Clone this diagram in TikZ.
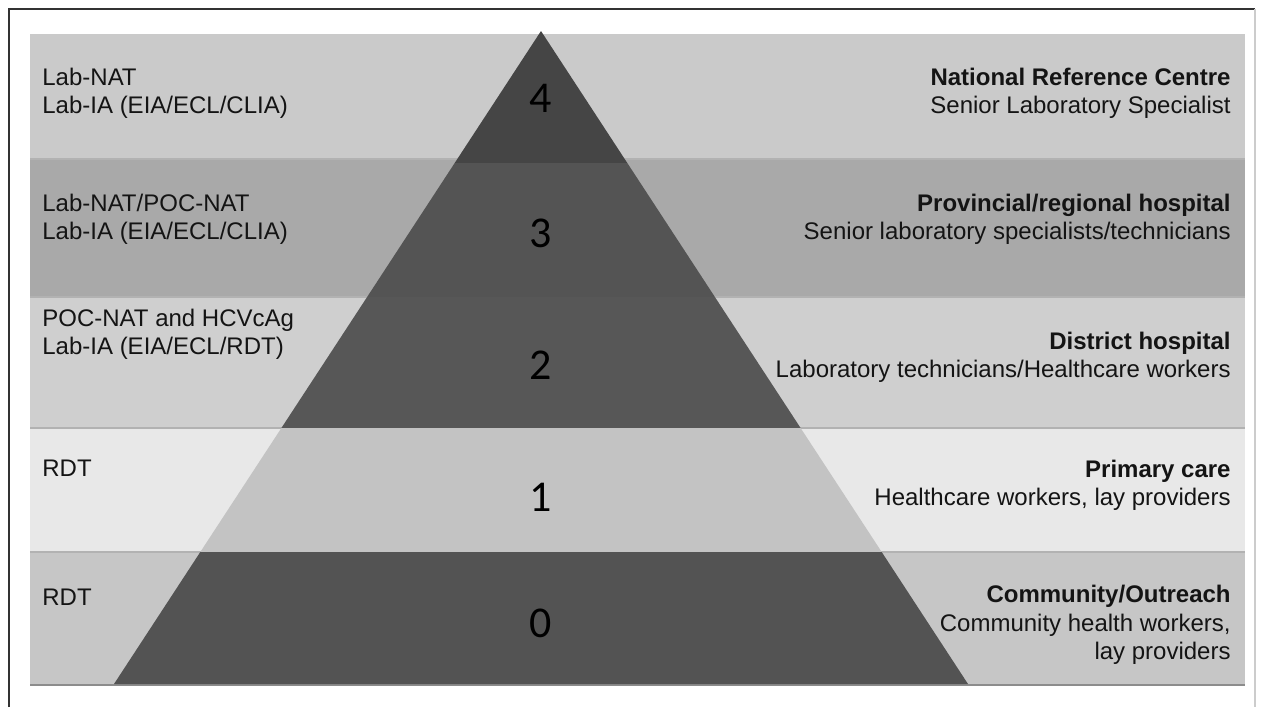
\documentclass[tikz,border=0pt]{standalone}
\usepackage{fontspec}
\setmainfont{Liberation Sans}
\newfontfamily\tiernumfont{Carlito}
\usepackage{tikz}

\definecolor{bandfour}{HTML}{CACACA}
\definecolor{bandthree}{HTML}{A9A9A9}
\definecolor{bandtwo}{HTML}{CFCFCF}
\definecolor{bandone}{HTML}{E8E8E8}
\definecolor{bandzero}{HTML}{C6C6C6}
\definecolor{tierfour}{HTML}{454545}
\definecolor{tierthree}{HTML}{545454}
\definecolor{tiertwo}{HTML}{575757}
\definecolor{tierone}{HTML}{C3C3C3}
\definecolor{tierzero}{HTML}{535353}

\begin{document}
\begin{tikzpicture}[x=0.5pt, y=-0.5pt,
    labeltxt/.style={font=\fontsize{12}{14.2}\selectfont, inner sep=0pt, text=black!92},
    testtxt/.style={labeltxt, anchor=west, align=left},
    sitetxt/.style={labeltxt, anchor=east, align=right},
    tiernum/.style={font=\tiernumfont\fontsize{22}{22}\selectfont, inner sep=0pt, text=black},
    bandline/.style={black!30, line width=0.6pt}]
        \useasboundingbox (0,0) rectangle (1264,707);                     %
        \draw [black!80, line width=1pt] (9,707) -- (9,9) -- (1255,9);    % frame
        \draw [black!20, line width=0.6pt] (1255,9) -- (1255,707);        %

        \fill [bandfour]  (30,34)  rectangle (1245,159);                  % level 4
        \fill [bandthree] (30,159) rectangle (1245,297);                  % level 3
        \fill [bandtwo]   (30,297) rectangle (1245,428);                  % level 2
        \fill [bandone]   (30,428) rectangle (1245,552);                  % level 1
        \fill [bandzero]  (30,552) rectangle (1245,684);                  % level 0
        \draw [bandline]  (30,159) -- (1245,159);                         %
        \draw [bandline]  (30,297) -- (1245,297);                         %
        \draw [bandline]  (30,428) -- (1245,428);                         %
        \draw [bandline]  (30,552) -- (1245,552);                         %
        \draw [black!45, line width=1pt] (30,685) -- (1245,685);          %

        \fill [tierfour]  (541,31) -- (627.3,163) -- (454.7,163) -- cycle;              % tier 4
        \fill [tierthree] (454.7,163) -- (627.3,163) -- (714.9,297) -- (367.1,297) -- cycle; % tier 3
        \fill [tiertwo]   (367.1,297) -- (714.9,297) -- (800.6,428) -- (281.4,428) -- cycle; % tier 2
        \fill [tierone]   (281.4,428) -- (800.6,428) -- (881.7,552) -- (200.3,552) -- cycle; % tier 1
        \fill [tierzero]  (200.3,552) -- (881.7,552) -- (968,684) -- (114,684) -- cycle;     % tier 0

        \node [tiernum] (num4) at (541,98)  {4};                          %
        \node [tiernum] (num3) at (541,233) {3};                          %
        \node [tiernum] (num2) at (541,365) {2};                          %
        \node [tiernum] (num1) at (541,497) {1};                          %
        \node [tiernum] (num0) at (541,623) {0};                          %

        \node [testtxt] (tests4) at (42,93)  {Lab-NAT\\Lab-IA (EIA/ECL/CLIA)};          %
        \node [testtxt] (tests3) at (42,219) {Lab-NAT/POC-NAT\\Lab-IA (EIA/ECL/CLIA)};  %
        \node [testtxt] (tests2) at (42,334) {POC-NAT and HCVcAg\\Lab-IA (EIA/ECL/RDT)}; %
        \node [testtxt] (tests1) at (42,468) {RDT};                                     %
        \node [testtxt] (tests0) at (42,597) {RDT};                                     %

        \node [sitetxt] (site4) at (1231,93)  {\textbf{National Reference Centre}\\Senior Laboratory Specialist};                    %
        \node [sitetxt] (site3) at (1231,219) {\textbf{Provincial/regional hospital}\\Senior laboratory specialists/technicians};    %
        \node [sitetxt] (site2) at (1231,357) {\textbf{District hospital}\\Laboratory technicians/Healthcare workers};              %
        \node [sitetxt] (site1) at (1231,485) {\textbf{Primary care}\\Healthcare workers, lay providers};                          %
        \node [sitetxt] (site0) at (1231,625) {\textbf{Community/Outreach}\\Community health workers,\\lay providers};             %
      \end{tikzpicture}
\end{document}
